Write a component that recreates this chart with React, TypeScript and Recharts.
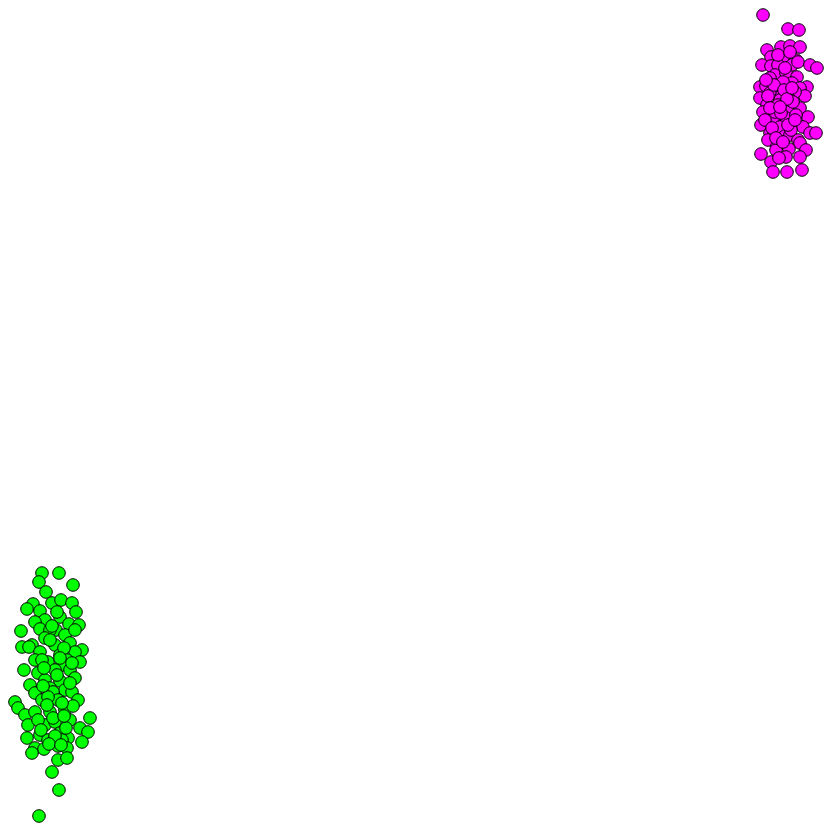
import { ScatterChart, Scatter, XAxis, YAxis } from "recharts";

// estimated point positions (x, y in a 0..832 space, y grows downward)
const magentaX = [763, 788, 799, 767, 781, 790, 800, 771, 783, 796, 762, 771, 778, 792, 798, 810, 817, 775, 786, 797, 760, 766, 779, 792, 807, 770, 782, 800, 760, 780, 794, 805, 767, 778, 788, 800, 763, 773, 786, 808, 761, 765, 780, 792, 803, 810, 816, 770, 785, 790, 798, 768, 800, 777, 789, 806, 761, 776, 786, 800, 771, 779, 773, 787, 802, 770, 783, 795, 775, 790, 774, 784, 793, 768, 787, 796, 772, 781, 791, 776, 788, 770, 783, 795, 778, 790, 766, 785, 792, 780];
const magentaY = [15, 29, 30, 50, 47, 46, 47, 57, 58, 60, 65, 66, 65, 65, 62, 65, 68, 75, 73, 77, 87, 86, 87, 83, 87, 93, 95, 88, 98, 100, 97, 96, 105, 105, 110, 108, 112, 119, 118, 117, 125, 120, 127, 124, 127, 133, 133, 133, 136, 135, 140, 140, 143, 146, 149, 150, 154, 150, 157, 157, 162, 158, 172, 172, 170, 78, 82, 92, 112, 100, 85, 90, 102, 96, 99, 115, 128, 113, 130, 138, 125, 108, 142, 120, 55, 52, 80, 68, 88, 107];

const greenX = [42, 59, 73, 39, 46, 33, 52, 61, 72, 40, 27, 76, 45, 60, 35, 69, 79, 21, 40, 56, 65, 75, 50, 45, 32, 55, 70, 82, 22, 29, 40, 60, 75, 35, 48, 67, 80, 42, 62, 24, 38, 55, 70, 45, 60, 75, 30, 50, 65, 35, 72, 53, 15, 18, 42, 58, 78, 25, 35, 50, 65, 73, 90, 28, 45, 55, 70, 38, 80, 88, 40, 60, 27, 48, 68, 82, 62, 35, 44, 58, 67, 32, 58, 67, 52, 59, 39, 50, 64, 44, 57, 70, 48, 62, 53, 41, 66, 55, 47, 60, 52, 72, 43, 57, 64, 49, 61];
const greenY = [573, 573, 585, 582, 592, 604, 603, 600, 603, 611, 609, 612, 620, 617, 622, 624, 625, 631, 629, 630, 635, 630, 630, 638, 645, 645, 643, 650, 647, 647, 652, 655, 652, 660, 662, 660, 662, 660, 665, 670, 673, 670, 670, 680, 681, 678, 685, 688, 690, 693, 692, 692, 702, 708, 700, 700, 700, 715, 712, 712, 710, 706, 718, 725, 725, 722, 720, 720, 728, 732, 735, 733, 738, 740, 738, 742, 740, 748, 749, 746, 748, 753, 760, 758, 772, 790, 816, 640, 648, 668, 675, 683, 697, 703, 718, 730, 728, 736, 705, 658, 626, 663, 686, 612, 716, 744, 745];

const magentaData = magentaX.map((x, i) => ({ x, y: magentaY[i] }));
const greenData = greenX.map((x, i) => ({ x, y: greenY[i] }));

const Dot = (props: any) => {
  const { cx, cy, fill } = props;
  return <circle cx={cx} cy={cy} r={6.3} fill={fill} stroke="#000" strokeWidth={1} />;
};

export default function App() {
  return (
    <div style={{ position: "absolute", left: 0, top: 0, width: 832, height: 832, background: "#fff" }}>
      <ScatterChart width={832} height={832} margin={{ top: 0, right: 0, bottom: 0, left: 0 }}>
        <XAxis type="number" dataKey="x" domain={[0, 832]} hide />
        <YAxis type="number" dataKey="y" domain={[0, 832]} reversed hide />
        <Scatter data={greenData} fill="#00ff00" shape={<Dot />} isAnimationActive={false} />
        <Scatter data={magentaData} fill="#ff00ff" shape={<Dot />} isAnimationActive={false} />
      </ScatterChart>
    </div>
  );
}
